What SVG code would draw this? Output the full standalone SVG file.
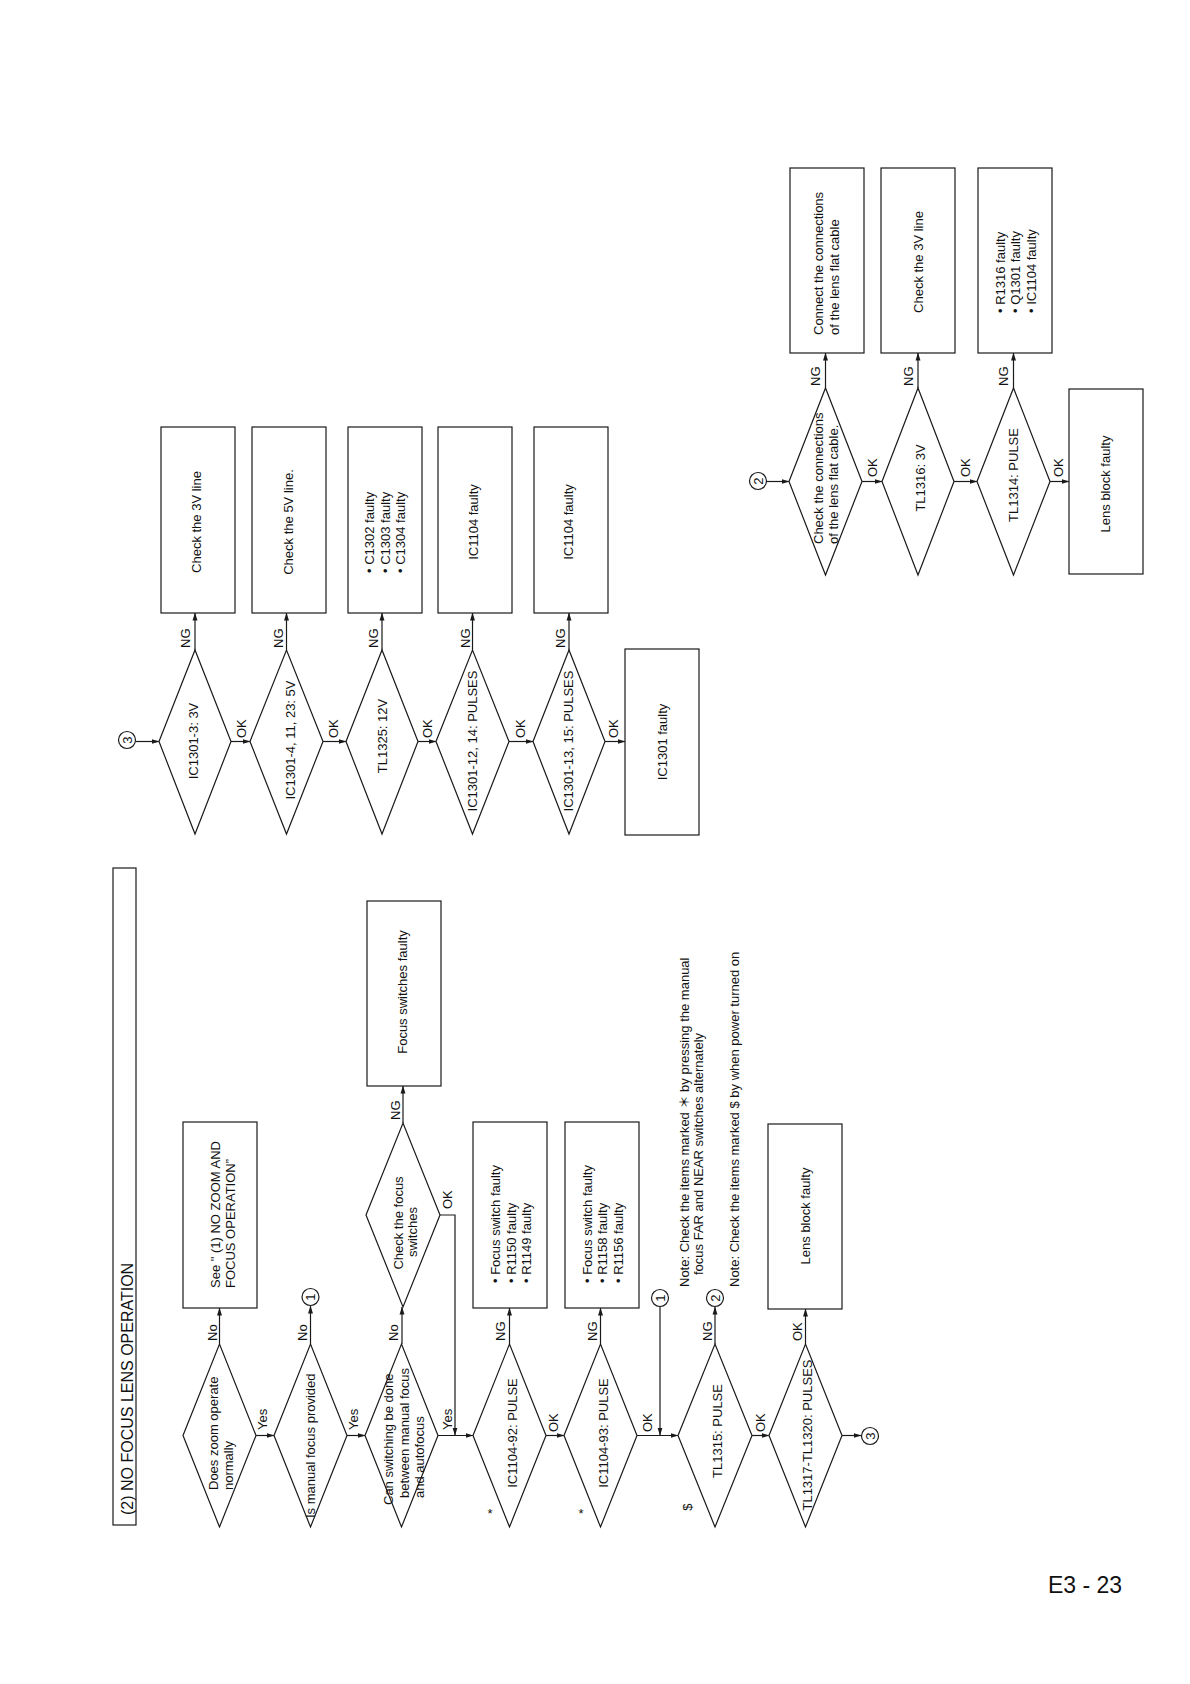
<svg xmlns="http://www.w3.org/2000/svg" width="1190" height="1684" viewBox="0 0 1190 1684">
<defs>
<marker id="ah" markerWidth="8" markerHeight="6" refX="7.5" refY="3" orient="auto" markerUnits="userSpaceOnUse">
<path d="M0,0.5 L8,3 L0,5.5 z" fill="#1a1a1a"/>
</marker>
<style>
.s{fill:#fff;stroke:#1a1a1a;stroke-width:1.2}
.c{fill:none;stroke:#1a1a1a;stroke-width:1.2}
.a{fill:none;stroke:#1a1a1a;stroke-width:1.2;marker-end:url(#ah)}
text{font-family:"Liberation Sans",Arial,"Noto Sans CJK JP",sans-serif;font-size:13px;fill:#111}
.m{text-anchor:middle}
</style>
</defs>
<rect width="1190" height="1684" fill="#fff"/>

<!-- Title -->
<g id="title">
<rect class="s" x="113" y="868" width="23" height="657"/>
<text x="133" y="1515" transform="rotate(-90 133 1515)" style="font-size:16px">(2) NO FOCUS LENS OPERATION</text>
</g>

<!-- Connectors -->
<g id="connectors">
<!-- left flow -->
<line class="a" x1="219.5" y1="1344" x2="219.5" y2="1308"/>
<line class="a" x1="256" y1="1435.5" x2="274" y2="1435.5"/>
<line class="a" x1="310.5" y1="1344" x2="310.5" y2="1306"/>
<line class="a" x1="347" y1="1435.5" x2="365" y2="1435.5"/>
<line class="a" x1="402" y1="1344" x2="402" y2="1307"/>
<line class="a" x1="403" y1="1123" x2="403" y2="1086"/>
<polyline class="a" points="440,1215 455,1215 455,1435"/>
<line class="a" x1="438" y1="1435.5" x2="473" y2="1435.5"/>
<line class="a" x1="509.5" y1="1344" x2="509.5" y2="1308"/>
<line class="a" x1="546" y1="1435.5" x2="564" y2="1435.5"/>
<line class="a" x1="600.5" y1="1344" x2="600.5" y2="1308"/>
<line class="a" x1="637" y1="1435.5" x2="678" y2="1435.5"/>
<line class="a" x1="660" y1="1307" x2="660" y2="1435"/>
<line class="a" x1="715" y1="1344" x2="715" y2="1307"/>
<line class="a" x1="752" y1="1435.5" x2="769" y2="1435.5"/>
<line class="a" x1="805.5" y1="1344" x2="805.5" y2="1309"/>
<line class="a" x1="842" y1="1435.5" x2="861" y2="1435.5"/>
<!-- middle flow -->
<line class="a" x1="136" y1="741.5" x2="159" y2="741.5"/>
<line class="a" x1="195" y1="650" x2="195" y2="613"/>
<line class="a" x1="231" y1="741.5" x2="250" y2="741.5"/>
<line class="a" x1="286.5" y1="650" x2="286.5" y2="613"/>
<line class="a" x1="323" y1="741.5" x2="346" y2="741.5"/>
<line class="a" x1="382" y1="650" x2="382" y2="613"/>
<line class="a" x1="418" y1="741.5" x2="436" y2="741.5"/>
<line class="a" x1="472.5" y1="650" x2="472.5" y2="613"/>
<line class="a" x1="509" y1="741.5" x2="533" y2="741.5"/>
<line class="a" x1="569" y1="650" x2="569" y2="613"/>
<line class="a" x1="605" y1="741.5" x2="625" y2="741.5"/>
<!-- right flow -->
<line class="a" x1="767" y1="481.5" x2="789" y2="481.5"/>
<line class="a" x1="825.5" y1="388" x2="825.5" y2="353"/>
<line class="a" x1="862" y1="481.5" x2="882" y2="481.5"/>
<line class="a" x1="918" y1="388" x2="918" y2="353"/>
<line class="a" x1="954" y1="481.5" x2="977" y2="481.5"/>
<line class="a" x1="1013.5" y1="388" x2="1013.5" y2="353"/>
<line class="a" x1="1050" y1="481.5" x2="1069" y2="481.5"/>
</g>

<!-- Connector labels -->
<g id="labels">
<text x="216.5" y="1341" transform="rotate(-90 216.5 1341)">No</text>
<text x="266.5" y="1430" transform="rotate(-90 266.5 1430)">Yes</text>
<text x="307" y="1341" transform="rotate(-90 307 1341)">No</text>
<text x="357.5" y="1430" transform="rotate(-90 357.5 1430)">Yes</text>
<text x="398" y="1341" transform="rotate(-90 398 1341)">No</text>
<text x="451.5" y="1430" transform="rotate(-90 451.5 1430)">Yes</text>
<text x="399.5" y="1120" transform="rotate(-90 399.5 1120)">NG</text>
<text x="452" y="1209" transform="rotate(-90 452 1209)">OK</text>
<text x="504.5" y="1341" transform="rotate(-90 504.5 1341)">NG</text>
<text x="557.5" y="1432" transform="rotate(-90 557.5 1432)">OK</text>
<text x="596.5" y="1341" transform="rotate(-90 596.5 1341)">NG</text>
<text x="651.5" y="1432" transform="rotate(-90 651.5 1432)">OK</text>
<text x="711.5" y="1341" transform="rotate(-90 711.5 1341)">NG</text>
<text x="764.5" y="1432" transform="rotate(-90 764.5 1432)">OK</text>
<text x="801.5" y="1341" transform="rotate(-90 801.5 1341)">OK</text>

<text x="189.5" y="648" transform="rotate(-90 189.5 648)">NG</text>
<text x="245.5" y="738" transform="rotate(-90 245.5 738)">OK</text>
<text x="282.5" y="648" transform="rotate(-90 282.5 648)">NG</text>
<text x="337.5" y="738" transform="rotate(-90 337.5 738)">OK</text>
<text x="377.5" y="648" transform="rotate(-90 377.5 648)">NG</text>
<text x="431.5" y="738" transform="rotate(-90 431.5 738)">OK</text>
<text x="469.5" y="648" transform="rotate(-90 469.5 648)">NG</text>
<text x="524.5" y="738" transform="rotate(-90 524.5 738)">OK</text>
<text x="564.5" y="648" transform="rotate(-90 564.5 648)">NG</text>
<text x="617.5" y="738" transform="rotate(-90 617.5 738)">OK</text>

<text x="819.5" y="386" transform="rotate(-90 819.5 386)">NG</text>
<text x="876.5" y="477" transform="rotate(-90 876.5 477)">OK</text>
<text x="912.5" y="386" transform="rotate(-90 912.5 386)">NG</text>
<text x="969.5" y="477" transform="rotate(-90 969.5 477)">OK</text>
<text x="1007.5" y="386" transform="rotate(-90 1007.5 386)">NG</text>
<text x="1062.5" y="477" transform="rotate(-90 1062.5 477)">OK</text>

<text x="490" y="1518" class="m">*</text>
<text x="581" y="1518" class="m">*</text>
<text x="692" y="1507" class="m" transform="rotate(-90 692 1507)">$</text>
</g>

<!-- Left flow nodes -->
<g id="d1"><polygon class="s" points="183,1435.5 219.5,1344 256,1435.5 219.5,1527"/>
<text x="218" y="1490" transform="rotate(-90 218 1490)">Does zoom operate</text>
<text x="233" y="1490" transform="rotate(-90 233 1490)">normally</text></g>
<g id="b1"><rect class="s" x="183" y="1122" width="74" height="186"/>
<text x="220" y="1288" transform="rotate(-90 220 1288)">See " (1) NO ZOOM AND</text>
<text x="235" y="1288" transform="rotate(-90 235 1288)">FOCUS OPERATION”</text></g>
<g id="d2"><polygon class="s" points="274,1435.5 310.5,1344 347,1435.5 310.5,1527"/>
<text x="315" y="1518" transform="rotate(-90 315 1518)">Is manual focus provided</text></g>
<g id="c1a"><circle class="s" cx="310.5" cy="1297" r="8.5"/>
<text x="315" y="1297" class="m" transform="rotate(-90 315 1297)">1</text></g>
<g id="d3"><polygon class="s" points="365,1435.5 401.5,1344 438,1435.5 401.5,1527"/>
<text x="393" y="1505" transform="rotate(-90 393 1505)">Can switching be done</text>
<text x="408.5" y="1498" transform="rotate(-90 408.5 1498)">between manual focus</text>
<text x="424" y="1498" transform="rotate(-90 424 1498)">and autofocus</text></g>
<g id="d4"><polygon class="s" points="366,1215 403,1123 440,1215 403,1307"/>
<text x="403" y="1223" class="m" transform="rotate(-90 403 1223)">Check the focus</text>
<text x="417" y="1232" class="m" transform="rotate(-90 417 1232)">switches</text></g>
<g id="bf"><rect class="s" x="367" y="901" width="74" height="185"/>
<text x="406.5" y="992" class="m" transform="rotate(-90 406.5 992)">Focus switches faulty</text></g>
<g id="d5"><polygon class="s" points="473,1435.5 509.5,1344 546,1435.5 509.5,1527"/>
<text x="516.5" y="1433" class="m" transform="rotate(-90 516.5 1433)">IC1104-92: PULSE</text></g>
<g id="b5"><rect class="s" x="473" y="1122" width="74" height="186"/>
<text x="500" y="1283" transform="rotate(-90 500 1283)">• Focus switch faulty</text>
<text x="515.5" y="1283" transform="rotate(-90 515.5 1283)">• R1150 faulty</text>
<text x="531" y="1283" transform="rotate(-90 531 1283)">• R1149 faulty</text></g>
<g id="d6"><polygon class="s" points="564,1435.5 600.5,1344 637,1435.5 600.5,1527"/>
<text x="607.5" y="1433" class="m" transform="rotate(-90 607.5 1433)">IC1104-93: PULSE</text></g>
<g id="b6"><rect class="s" x="565" y="1122" width="74" height="186"/>
<text x="591.5" y="1283" transform="rotate(-90 591.5 1283)">• Focus switch faulty</text>
<text x="607" y="1283" transform="rotate(-90 607 1283)">• R1158 faulty</text>
<text x="622.5" y="1283" transform="rotate(-90 622.5 1283)">• R1156 faulty</text></g>
<g id="c1b"><circle class="s" cx="660" cy="1298" r="8.5"/>
<text x="664.5" y="1298" class="m" transform="rotate(-90 664.5 1298)">1</text></g>
<g id="d7"><polygon class="s" points="678,1435.5 715,1344 752,1435.5 715,1527"/>
<text x="721.5" y="1431" class="m" transform="rotate(-90 721.5 1431)">TL1315: PULSE</text></g>
<g id="c2a"><circle class="s" cx="715" cy="1298" r="8.5"/>
<text x="719.5" y="1298" class="m" transform="rotate(-90 719.5 1298)">2</text></g>
<g id="d8"><polygon class="s" points="769,1435.5 805.5,1344 842,1435.5 805.5,1527"/>
<text x="811.5" y="1435" class="m" transform="rotate(-90 811.5 1435)">TL1317-TL1320: PULSES</text></g>
<g id="b8"><rect class="s" x="768" y="1124" width="74" height="185"/>
<text x="809.5" y="1216" class="m" transform="rotate(-90 809.5 1216)">Lens block faulty</text></g>
<g id="c3a"><circle class="s" cx="870" cy="1436" r="8.5"/>
<text x="874.5" y="1436" class="m" transform="rotate(-90 874.5 1436)">3</text></g>

<!-- Notes -->
<g id="notes">
<text x="689" y="1287" transform="rotate(-90 689 1287)">Note: Check the items marked ＊ by pressing the manual</text>
<text x="703" y="1275" transform="rotate(-90 703 1275)">focus FAR and NEAR switches alternately</text>
<text x="739" y="1287" transform="rotate(-90 739 1287)">Note: Check the items marked $ by when power turned on</text>
</g>

<!-- Middle flow nodes -->
<g id="c3b"><circle class="s" cx="127" cy="740" r="8.5"/>
<text x="131.5" y="740" class="m" transform="rotate(-90 131.5 740)">3</text></g>
<g id="da"><polygon class="s" points="159,741.5 195,650 231,741.5 195,834"/>
<text x="197.5" y="741" class="m" transform="rotate(-90 197.5 741)">IC1301-3: 3V</text></g>
<g id="ma"><rect class="s" x="161" y="427" width="74" height="186"/>
<text x="200.5" y="522" class="m" transform="rotate(-90 200.5 522)">Check the 3V line</text></g>
<g id="db"><polygon class="s" points="250,741.5 286.5,650 323,741.5 286.5,834"/>
<text x="294.5" y="740" class="m" transform="rotate(-90 294.5 740)">IC1301-4, 11, 23: 5V</text></g>
<g id="mb"><rect class="s" x="252" y="427" width="74" height="186"/>
<text x="292.5" y="522" class="m" transform="rotate(-90 292.5 522)">Check the 5V line.</text></g>
<g id="dc"><polygon class="s" points="346,741.5 382,650 418,741.5 382,834"/>
<text x="386.5" y="736" class="m" transform="rotate(-90 386.5 736)">TL1325: 12V</text></g>
<g id="mc"><rect class="s" x="348" y="427" width="74" height="186"/>
<text x="374" y="573" transform="rotate(-90 374 573)">• C1302 faulty</text>
<text x="389.5" y="573" transform="rotate(-90 389.5 573)">• C1303 faulty</text>
<text x="405" y="573" transform="rotate(-90 405 573)">• C1304 faulty</text></g>
<g id="dd"><polygon class="s" points="436,741.5 472.5,650 509,741.5 472.5,834"/>
<text x="476.5" y="741" class="m" transform="rotate(-90 476.5 741)">IC1301-12, 14: PULSES</text></g>
<g id="md"><rect class="s" x="438" y="427" width="74" height="186"/>
<text x="477.5" y="522" class="m" transform="rotate(-90 477.5 522)">IC1104 faulty</text></g>
<g id="de"><polygon class="s" points="533,741.5 569,650 605,741.5 569,834"/>
<text x="572.5" y="741" class="m" transform="rotate(-90 572.5 741)">IC1301-13, 15: PULSES</text></g>
<g id="me"><rect class="s" x="534" y="427" width="74" height="186"/>
<text x="572.5" y="522" class="m" transform="rotate(-90 572.5 522)">IC1104 faulty</text></g>
<g id="mf"><rect class="s" x="625" y="649" width="74" height="186"/>
<text x="666.5" y="742" class="m" transform="rotate(-90 666.5 742)">IC1301 faulty</text></g>

<!-- Right flow nodes -->
<g id="c2b"><circle class="s" cx="758" cy="481" r="8.5"/>
<text x="762.5" y="481" class="m" transform="rotate(-90 762.5 481)">2</text></g>
<g id="r1"><polygon class="s" points="789,481.5 825.5,388 862,481.5 825.5,575"/>
<text x="822.5" y="544" transform="rotate(-90 822.5 544)">Check the connections</text>
<text x="837.5" y="544" transform="rotate(-90 837.5 544)">of the lens flat cable.</text></g>
<g id="rb1"><rect class="s" x="790" y="168" width="74" height="185"/>
<text x="823" y="335" transform="rotate(-90 823 335)">Connect the connections</text>
<text x="839" y="335" transform="rotate(-90 839 335)">of the lens flat cable</text></g>
<g id="r2"><polygon class="s" points="882,481.5 918,388 954,481.5 918,575"/>
<text x="924.5" y="478" class="m" transform="rotate(-90 924.5 478)">TL1316: 3V</text></g>
<g id="rb2"><rect class="s" x="881" y="168" width="74" height="185"/>
<text x="922.5" y="262" class="m" transform="rotate(-90 922.5 262)">Check the 3V line</text></g>
<g id="r3"><polygon class="s" points="977,481.5 1013.5,388 1050,481.5 1013.5,575"/>
<text x="1017.5" y="475" class="m" transform="rotate(-90 1017.5 475)">TL1314: PULSE</text></g>
<g id="rb3"><rect class="s" x="978" y="168" width="74" height="185"/>
<text x="1004.5" y="313" transform="rotate(-90 1004.5 313)">• R1316 faulty</text>
<text x="1020" y="313" transform="rotate(-90 1020 313)">• Q1301 faulty</text>
<text x="1035.5" y="313" transform="rotate(-90 1035.5 313)">• IC1104 faulty</text></g>
<g id="rl"><rect class="s" x="1069" y="389" width="74" height="185"/>
<text x="1109.5" y="484" class="m" transform="rotate(-90 1109.5 484)">Lens block faulty</text></g>

<text x="1048" y="1593" style="font-size:23px">E3 - 23</text>
</svg>
